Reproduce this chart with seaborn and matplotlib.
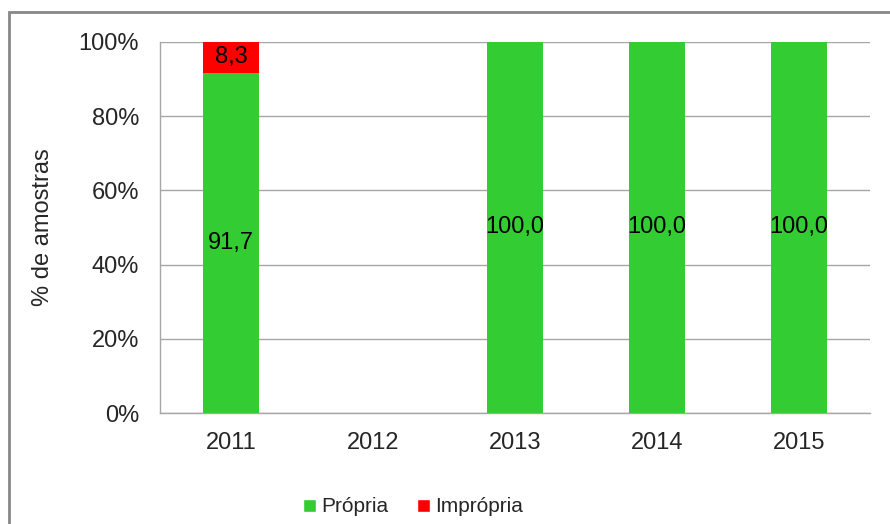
import numpy as np
import pandas as pd
import matplotlib
matplotlib.use("Agg")
import matplotlib.pyplot as plt
from matplotlib.patches import Rectangle, Patch
from matplotlib.ticker import FuncFormatter, FixedLocator
import seaborn as sns

# === DATA ===
years = ["2011", "2012", "2013", "2014", "2015"]
propria = [91.7, np.nan, 100.0, 100.0, 100.0]
impropria = [8.3, np.nan, 0.0, 0.0, 0.0]

GREEN = "#33cc33"
RED = "#ff0000"
GRID = "#a6a6a6"
FS = 17

sns.set_style("white")
plt.rcParams["font.family"] = ["Liberation Sans", "DejaVu Sans"]

df = pd.DataFrame({"ano": years, "propria": propria, "impropria": impropria})
df["total"] = df["propria"] + df["impropria"]

fig = plt.figure(figsize=(8.9, 5.24), dpi=100)
ax = fig.add_axes([160 / 890, 1 - 413 / 524, 710 / 890, 371 / 524])

# red stacked on top: draw total first, then green over it
sns.barplot(data=df, x="ano", y="total", order=years, color=RED, width=0.4,
            saturation=1, linewidth=0, ax=ax, zorder=3)
sns.barplot(data=df, x="ano", y="propria", order=years, color=GREEN, width=0.4,
            saturation=1, linewidth=0, ax=ax, zorder=4)

# value labels
for i, (p, imp) in enumerate(zip(propria, impropria)):
    if np.isnan(p):
        continue
    ax.text(i, p / 2, f"{p:.1f}".replace(".", ","), ha="center", va="center",
            fontsize=FS, color="black", zorder=5)
    if imp > 0:
        ax.text(i, p + imp / 2, f"{imp:.1f}".replace(".", ","), ha="center",
                va="center", fontsize=FS, color="black", zorder=5)

ax.set_xlim(-0.5, len(years) - 0.5)
ax.set_ylim(0, 100)
ax.yaxis.set_major_locator(FixedLocator([0, 20, 40, 60, 80, 100]))
ax.yaxis.set_major_formatter(FuncFormatter(lambda v, _: f"{int(v)}%"))
ax.grid(axis="y", color=GRID, lw=1, zorder=0)
ax.set_axisbelow(True)

for s in ["top", "right"]:
    ax.spines[s].set_visible(False)
for s in ["left", "bottom"]:
    ax.spines[s].set_color(GRID)
    ax.spines[s].set_linewidth(1)

ax.tick_params(axis="y", length=7, color=GRID, width=1, labelsize=FS, pad=8)
ax.tick_params(axis="x", which="major", length=0, labelsize=FS, pad=14)
ax.set_xticks(np.arange(-0.5, len(years)), minor=True)
ax.tick_params(axis="x", which="minor", length=8, color=GRID, width=1)

ax.set_xlabel("")
ax.set_ylabel("% de amostras", fontsize=FS, labelpad=18)

handles = [Patch(facecolor=GREEN, label="Própria"),
           Patch(facecolor=RED, label="Imprópria")]
fig.legend(handles=handles, loc="center", bbox_to_anchor=(413 / 890, 1 - 507 / 524),
           ncol=2, frameon=False, fontsize=15, handlelength=0.6,
           handleheight=0.6, handletextpad=0.25, columnspacing=1.4)

# outer chart border
fig.add_artist(Rectangle((9 / 890, -0.1), 2, 1.1 - 12 / 524,
                         transform=fig.transFigure, fill=False,
                         edgecolor="#888888", lw=2))

fig.savefig("out.png", dpi=100)
